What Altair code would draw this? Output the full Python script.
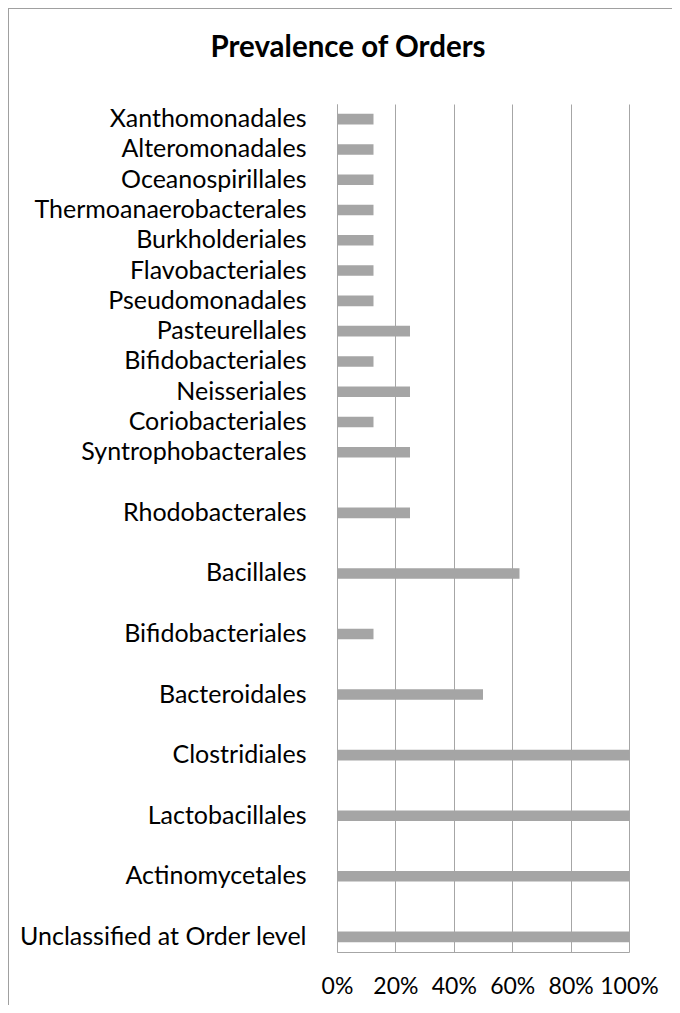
import altair as alt
import pandas as pd

# Categories listed top to bottom, as in the reference
categories = [
    "Xanthomonadales", "Alteromonadales", "Oceanospirillales",
    "Thermoanaerobacterales", "Burkholderiales", "Flavobacteriales",
    "Pseudomonadales", "Pasteurellales", "Bifidobacteriales", "Neisseriales",
    "Coriobacteriales", "Syntrophobacterales", "Rhodobacterales", "Bacillales",
    "Bifidobacteriales", "Bacteroidales", "Clostridiales", "Lactobacillales",
    "Actinomycetales", "Unclassified at Order level",
]
prevalence = [
    0.125, 0.125, 0.125, 0.125, 0.125, 0.125, 0.125, 0.25, 0.125, 0.25,
    0.125, 0.25, 0.25, 0.625, 0.125, 0.5, 1.0, 1.0, 1.0, 1.0,
]
# blank category slots placed before each category (uneven spacing in source)
gap_before = [0] * 12 + [1] * 8
x_ticks = [0, 0.2, 0.4, 0.6, 0.8, 1.0]

keys = []
domain = []
g = 0
for i, (name, gap) in enumerate(zip(categories, gap_before)):
    for _ in range(gap):
        domain.append(f"g{g:02d}|")
        g += 1
    k = f"{i:02d}|{name}"
    keys.append(k)
    domain.append(k)

df = pd.DataFrame({"key": keys, "name": categories, "value": prevalence})

FONT = "Lato"
GRID = "#a6a6a6"

bars = alt.Chart(df).mark_bar(color="#a5a5a5").encode(
    x=alt.X("value:Q",
            scale=alt.Scale(domain=[0, 1], nice=False),
            axis=alt.Axis(values=x_ticks, format="%", title=None, grid=True,
                          gridColor=GRID, gridWidth=1, ticks=False,
                          domainColor=GRID, labelFontSize=23, labelFont=FONT,
                          labelColor="#000000", labelPadding=23,
                          labelFlush=False)),
    y=alt.Y("key:N", sort=domain,
            scale=alt.Scale(domain=domain, paddingInner=0.65, paddingOuter=0.325),
            axis=alt.Axis(title=None, ticks=False, domainColor=GRID,
                          labelExpr="split(datum.value, '|')[1]",
                          labelFontSize=25, labelFont=FONT, labelColor="#000000",
                          labelPadding=31, labelLimit=400)),
    tooltip=["name:N", alt.Tooltip("value:Q", format=".1%")],
)

border_src = alt.Data(values=[{"a": 1}])
left_border = alt.Chart(border_src).mark_rule(color="#a0a0a0", strokeWidth=1).encode(
    x=alt.value(-328.5), y=alt.value(-95.5), y2=alt.value(902))
top_border = alt.Chart(border_src).mark_rule(color="#a0a0a0", strokeWidth=1).encode(
    x=alt.value(-329), x2=alt.value(336), y=alt.value(-95.5))

chart = alt.layer(bars, left_border, top_border).properties(
    width=292,
    height=848,
    title=alt.TitleParams("Prevalence of Orders", font=FONT, fontSize=29.5,
                          fontWeight="bold", color="#000000", anchor="middle",
                          frame="group", baseline="bottom", dx=-135, dy=84,
                          offset=0),
    autosize=alt.AutoSizeParams(type="none"),
    padding={"left": 329, "top": 96, "right": 43, "bottom": 53},
).configure_view(stroke=None)

chart.save("out.html", embed_options={"renderer": "svg", "actions": False})
